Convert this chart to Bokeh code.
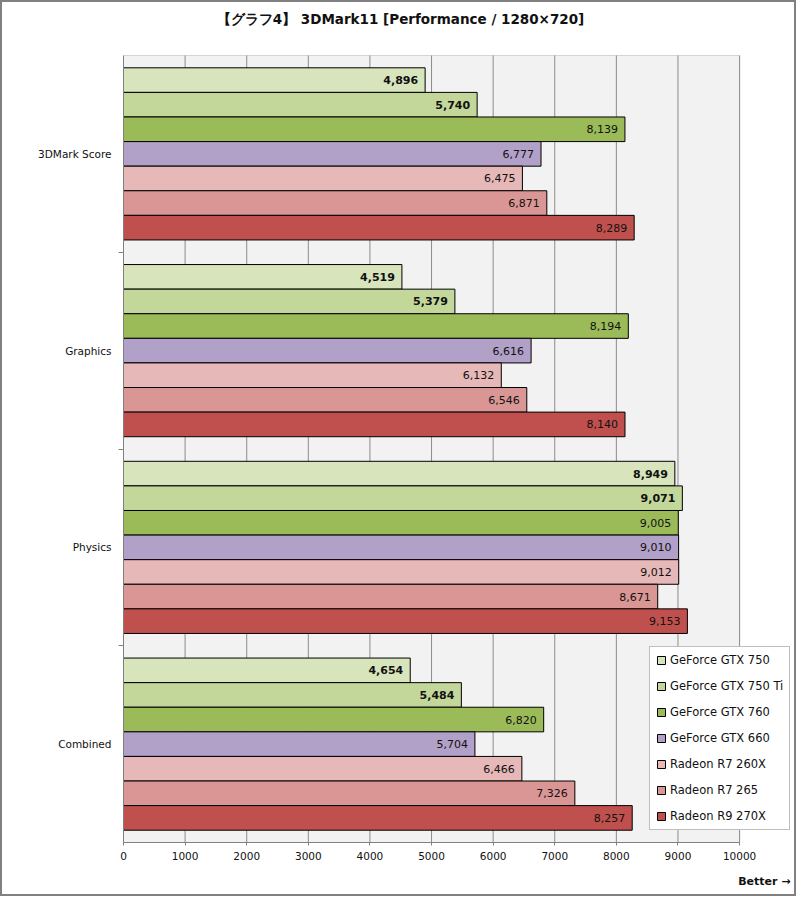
from bokeh.plotting import figure
from bokeh.models import ColumnDataSource, Range1d, FixedTicker, Legend, LegendItem, Title, BoxAnnotation, Label
from bokeh.transform import dodge
from bokeh.core.properties import value
from bokeh.embed import file_html
from bokeh.resources import INLINE

title_text = "【グラフ4】 3DMark11 [Performance / 1280×720]"
note_text = "Better →"
categories = ["3DMark Score", "Graphics", "Physics", "Combined"]
series = ["GeForce GTX 750", "GeForce GTX 750 Ti", "GeForce GTX 760", "GeForce GTX 660",
          "Radeon R7 260X", "Radeon R7 265", "Radeon R9 270X"]
gtx750 = [4896, 4519, 8949, 4654]
gtx750ti = [5740, 5379, 9071, 5484]
gtx760 = [8139, 8194, 9005, 6820]
gtx660 = [6777, 6616, 9010, 5704]
r7_260x = [6475, 6132, 9012, 6466]
r7_265 = [6871, 6546, 8671, 7326]
r9_270x = [8289, 8140, 9153, 8257]
series_values = [gtx750, gtx750ti, gtx760, gtx660, r7_260x, r7_265, r9_270x]
colors = ["#d8e4bc", "#c4d79b", "#9bbb59", "#b1a0c7", "#e6b8b7", "#da9694", "#c0504d"]
bold_labels = [True, True, False, False, False, False, False]
x_ticks = [0, 1000, 2000, 3000, 4000, 5000, 6000, 7000, 8000, 9000, 10000]
AXIS_MAX = 10000      # end of the grey plotting area
VIEW_MAX = 10940      # frame extends right so the legend can overhang the grey area
FONT = "DejaVu Sans"
n_cat = len(categories)
n_ser = len(series)
bar_h = 0.125
VIEW_TOP = n_cat * 838 / 787   # frame extends up so the title can sit inside it

p = figure(width=796, height=896, output_backend="svg", toolbar_location=None, title=None,
           x_range=Range1d(0, VIEW_MAX), y_range=Range1d(0, VIEW_TOP),
           min_border_left=121, min_border_right=1, min_border_top=2, min_border_bottom=56)
p.styles = {"border": "2px solid #808080"}

p.background_fill_color = "white"
p.border_fill_color = "white"
p.outline_line_color = None

p.add_layout(BoxAnnotation(left=0, right=AXIS_MAX, bottom=0, top=n_cat,
                           fill_color="#f2f2f2", fill_alpha=1,
                           line_color="#808080", line_width=1, level="image"))

# vertical grid lines inside the grey area only
p.segment(x0=x_ticks[1:], y0=0, x1=x_ticks[1:], y1=n_cat, line_color="#8c8c8c", line_width=1)

cat_y = [n_cat - i - 0.5 for i in range(n_cat)]

renderers = []
for j, (name, vals, col) in enumerate(zip(series, series_values, colors)):
    src = ColumnDataSource(dict(y=cat_y, x=vals, label=[f"{v:,}" for v in vals]))
    off = ((n_ser - 1) / 2 - j) * bar_h
    r = p.hbar(y=dodge("y", off), right="x", left=0, height=bar_h, source=src,
               fill_color=col, line_color="black", line_width=1)
    renderers.append(r)
    p.text(x="x", y=dodge("y", off), text="label", source=src, x_offset=-7,
           text_align="right", text_baseline="middle", text_color="#111111",
           text_font=value(FONT), text_font_size="11px",
           text_font_style="bold" if bold_labels[j] else "normal")

# axes
p.xaxis.ticker = FixedTicker(ticks=x_ticks)
p.xaxis.bounds = (0, AXIS_MAX)
p.xaxis.axis_line_color = "#808080"
p.xaxis.major_tick_line_color = "#808080"
p.xaxis.major_tick_out = 3
p.xaxis.major_tick_in = 0
p.xaxis.minor_tick_line_color = None
p.xaxis.major_label_text_font = FONT
p.xaxis.major_label_text_font_size = "10.5px"
p.xaxis.major_label_text_color = "#111111"
p.xaxis.major_label_standoff = 6

p.yaxis.ticker = FixedTicker(ticks=cat_y, minor_ticks=list(range(1, n_cat)))
p.yaxis.bounds = (0, n_cat)
p.yaxis.major_label_overrides = {y: c for y, c in zip(cat_y, categories)}
p.yaxis.axis_line_color = "#808080"
p.yaxis.major_tick_line_color = None
p.yaxis.major_tick_out = 0
p.yaxis.major_tick_in = 0
p.yaxis.minor_tick_line_color = "#808080"
p.yaxis.minor_tick_out = 5
p.yaxis.minor_tick_in = 0
p.yaxis.major_label_standoff = 7
p.yaxis.major_label_text_font = FONT
p.yaxis.major_label_text_font_size = "10.5px"
p.yaxis.major_label_text_color = "#111111"

p.xgrid.grid_line_color = None
p.ygrid.grid_line_color = None

legend = Legend(items=[LegendItem(label=s, renderers=[r]) for s, r in zip(series, renderers)],
                location=(526, 12))
legend.border_line_color = "#808080"
legend.border_line_width = 1
legend.background_fill_color = "white"
legend.background_fill_alpha = 1
legend.label_text_font = FONT
legend.label_text_font_size = "11.5px"
legend.label_text_color = "#111111"
legend.glyph_width = 10
legend.glyph_height = 10
legend.label_height = 12
legend.label_standoff = 4
legend.spacing = 12
legend.padding = 6
legend.margin = 0
p.add_layout(legend, "center")

p.add_layout(Label(x=277, y=824, x_units="screen", y_units="screen", text=title_text,
                   text_align="center", text_baseline="middle", text_font=FONT,
                   text_font_size="13.5px", text_font_style="bold", text_color="#111111"))

p.add_layout(Title(text=note_text, align="right", offset=7, standoff=20, text_font=FONT,
                   text_font_size="11px", text_font_style="bold", text_color="#111111"), "below")

open("out.html", "w").write(file_html(p, INLINE))
